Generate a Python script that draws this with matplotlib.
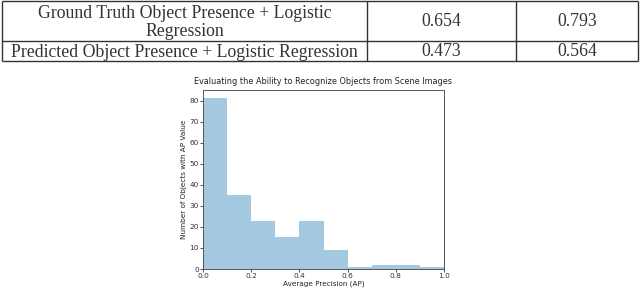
import numpy as np
import matplotlib
matplotlib.use("Agg")
import matplotlib.pyplot as plt

# table content
ROW_LABELS = ["Ground Truth Object Presence + Logistic\nRegression",
              "Predicted Object Presence + Logistic Regression"]
COL_A = ["0.654", "0.473"]
COL_B = ["0.793", "0.564"]

# histogram of AP values
BIN_EDGES = [0.0, 0.1, 0.2, 0.3, 0.4, 0.5, 0.6, 0.7, 0.8, 0.9, 1.0]
COUNTS = [81, 35, 23, 15, 23, 9, 1, 2, 2, 1]
X_TICKS = [0.0, 0.2, 0.4, 0.6, 0.8, 1.0]
Y_TICKS = [0, 10, 20, 30, 40, 50, 60, 70, 80]

W, H = 640, 289
fig = plt.figure(figsize=(W / 100, H / 100), dpi=100)

# --- table drawn on a pixel-coordinate overlay axes ---
tab = fig.add_axes([0, 0, 1, 1])
tab.set_xlim(0, W)
tab.set_ylim(H, 0)
tab.axis("off")

x_edges = [2, 367, 516, 638]
y_edges = [1, 41, 61]
lc = "#333333"
tab.hlines(y_edges, x_edges[0], x_edges[-1], color=lc, lw=1.0)
tab.vlines(x_edges, y_edges[0], y_edges[-1], color=lc, lw=1.0)

serif = dict(family="Liberation Serif", fontsize=12.8, color="#333333",
             ha="center", va="center")
for r in range(2):
    yc = (y_edges[r] + y_edges[r + 1]) / 2
    tab.text((x_edges[0] + x_edges[1]) / 2, yc + 1.5, ROW_LABELS[r],
             linespacing=1.08, **serif)
    tab.text((x_edges[1] + x_edges[2]) / 2, yc, COL_A[r], **serif)
    tab.text((x_edges[2] + x_edges[3]) / 2, yc, COL_B[r], **serif)

# --- histogram ---
ax = fig.add_axes([203 / W, 1 - 269 / H, (444 - 203) / W, (269 - 90) / H])
lefts = BIN_EDGES[:-1]
widths = np.diff(BIN_EDGES)
ax.bar(lefts, COUNTS, width=widths, align="edge", color="#1f77b4", alpha=0.4,
       linewidth=0)
ax.set_xlim(0, 1.0)
ax.set_ylim(0, 85)
ax.set_xticks(X_TICKS)
ax.set_yticks(Y_TICKS)
ax.tick_params(labelsize=5.3, length=2, width=0.6, pad=1, colors="#333333")
for s in ax.spines.values():
    s.set_linewidth(0.7)
    s.set_color("#555555")
ax.set_title("Evaluating the Ability to Recognize Objects from Scene Images",
             fontsize=5.85, pad=4, color="#222222")
ax.set_xlabel("Average Precision (AP)", fontsize=5.2, labelpad=1, color="#222222")
ax.set_ylabel("Number of Objects with AP Value", fontsize=5.2, labelpad=2,
              color="#222222")

fig.savefig("out.png", dpi=100)
